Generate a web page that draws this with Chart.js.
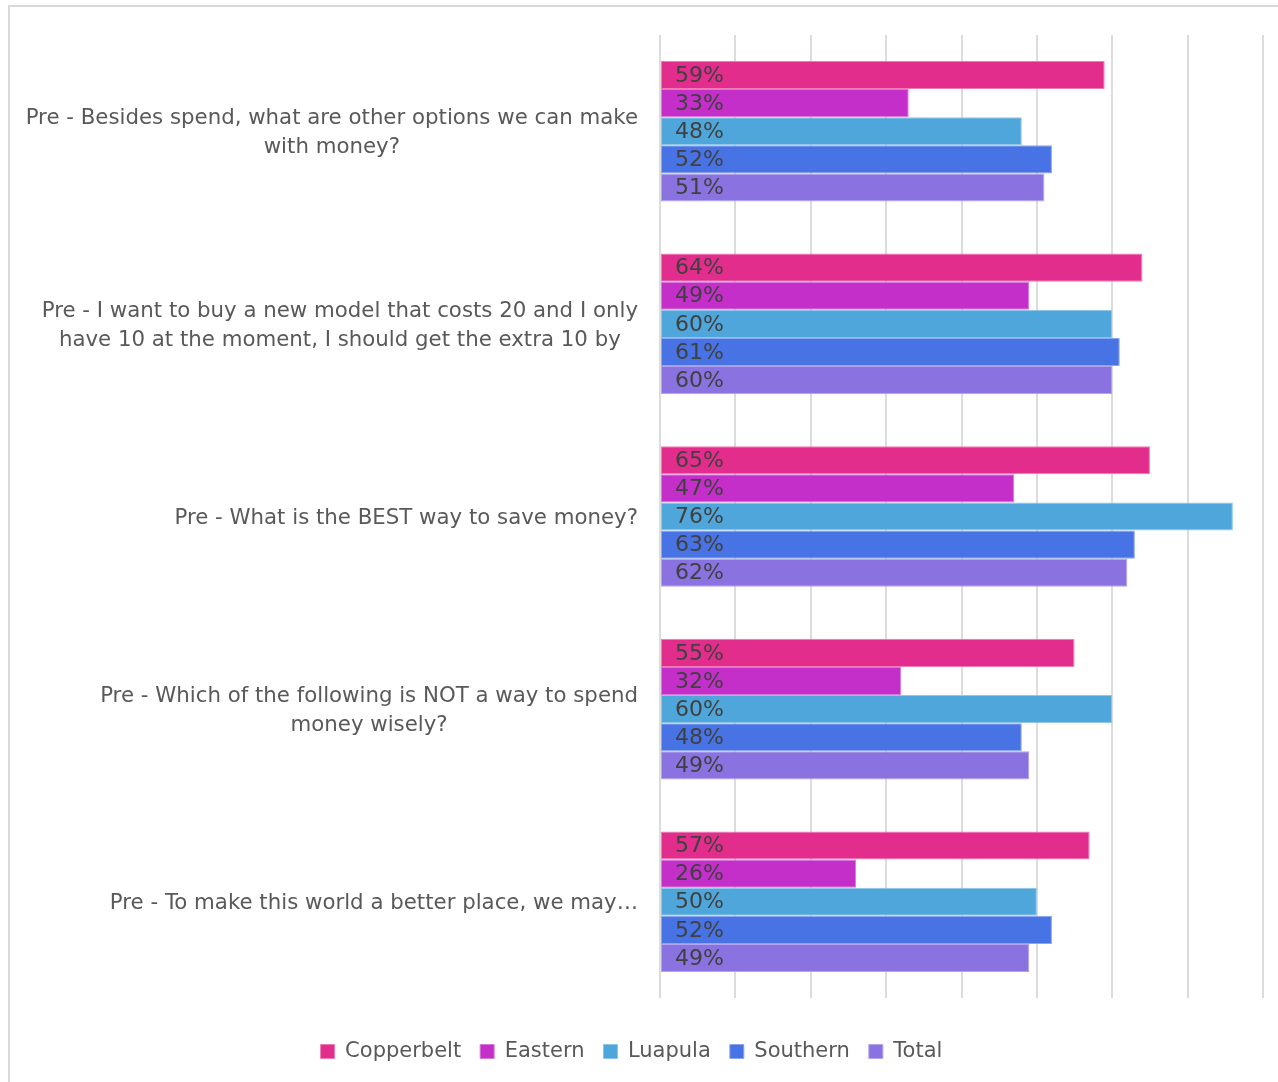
<!DOCTYPE html>
<html>
<head>
<meta charset="utf-8">
<script src="https://cdn.jsdelivr.net/npm/chart.js@4.4.1/dist/chart.umd.min.js"></script>
<style>
  html, body { margin: 0; padding: 0; background: #fff; }
  #wrap { position: relative; width: 1278px; height: 1082px; }
  #frame {
    position: absolute; left: 8px; top: 5px; right: -2px; bottom: -2px;
    border-top: 2px solid #d9d9d9; border-left: 2px solid #d9d9d9;
    pointer-events: none;
  }
</style>
</head>
<body>
<div id="wrap">
  <canvas id="chart"></canvas>
  <div id="frame"></div>
</div>
<script>
const FONT = '"DejaVu Sans", sans-serif';

const questions = [
  ['Pre - Besides spend, what are other options we can make', 'with money?'],
  ['Pre - I want to buy a new model that costs 20 and I only', 'have 10 at the moment, I should get the extra 10 by'],
  ['Pre - What is the BEST way to save money?'],
  ['Pre - Which of the following is NOT a way to spend', 'money wisely?'],
  ['Pre - To make this world a better place, we may…']
];

const regions = ['Copperbelt', 'Eastern', 'Luapula', 'Southern', 'Total'];

const copperbelt = [59, 64, 65, 55, 57];
const eastern = [33, 49, 47, 32, 26];
const luapula = [48, 60, 76, 60, 50];
const southern = [52, 61, 63, 48, 52];
const total = [51, 60, 62, 49, 49];

const fills = ['#e22d8c', '#c42ec9', '#4fa6db', '#4873e5', '#8a72e0'];
const edges = ['#ee7ab5', '#d878dc', '#8cc6ea', '#8aa6ef', '#b3a2ec'];

// question text to the left of the plot, right-aligned block with centred lines
const questionLabels = {
  id: 'questionLabels',
  afterDraw(chart) {
    const ctx = chart.ctx;
    const yScale = chart.scales.y;
    const right = 638;
    const lineHeight = 29;
    ctx.save();
    ctx.font = '21.3px ' + FONT;
    ctx.fillStyle = '#595959';
    ctx.textAlign = 'center';
    ctx.textBaseline = 'middle';
    questions.forEach((lines, i) => {
      const widest = Math.max(...lines.map(l => ctx.measureText(l).width));
      const cx = right - widest / 2;
      const cy = yScale.getPixelForValue(i) + 2;
      const top = cy - (lines.length - 1) * lineHeight / 2;
      lines.forEach((line, j) => ctx.fillText(line, cx, top + j * lineHeight));
    });
    ctx.restore();
  }
};

// percentage labels just inside the start of each bar
const barValues = {
  id: 'barValues',
  afterDatasetsDraw(chart) {
    const ctx = chart.ctx;
    ctx.save();
    ctx.font = '22px ' + FONT;
    ctx.fillStyle = '#404040';
    ctx.textAlign = 'left';
    ctx.textBaseline = 'middle';
    chart.data.datasets.forEach((ds, i) => {
      chart.getDatasetMeta(i).data.forEach((bar, j) => {
        ctx.fillText(ds.data[j] + '%', chart.chartArea.left + 15, bar.y + 1);
      });
    });
    ctx.restore();
  }
};

const seriesValues = [copperbelt, eastern, luapula, southern, total];

new Chart(document.getElementById('chart'), {
  type: 'bar',
  data: {
    labels: questions.map(q => q.join(' ')),
    datasets: regions.map((name, i) => ({
      label: name,
      data: seriesValues[i],
      backgroundColor: fills[i],
      borderColor: edges[i],
      borderWidth: 1,
      borderSkipped: false,
      categoryPercentage: 0.73,
      barPercentage: 1.0
    }))
  },
  options: {
    indexAxis: 'y',
    responsive: true,
    maintainAspectRatio: false,
    animation: false,
    layout: {
      padding: { left: 0, right: 15, top: 35, bottom: 10 }
    },
    scales: {
      x: {
        min: 0,
        max: 80,
        ticks: { display: false, stepSize: 10 },
        grid: { color: '#dcdcdc', lineWidth: 2, drawTicks: false },
        border: { display: false },
        afterFit(scale) { scale.height = 24; }
      },
      y: {
        ticks: { display: false },
        grid: { display: false },
        border: { display: false },
        afterFit(scale) { scale.width = 660; }
      }
    },
    plugins: {
      legend: {
        position: 'bottom',
        labels: {
          font: { family: FONT, size: 21 },
          color: '#595959',
          boxWidth: 14,
          boxHeight: 14,
          padding: 19
        }
      },
      tooltip: { enabled: false }
    }
  },
  plugins: [questionLabels, barValues]
});
</script>
</body>
</html>
